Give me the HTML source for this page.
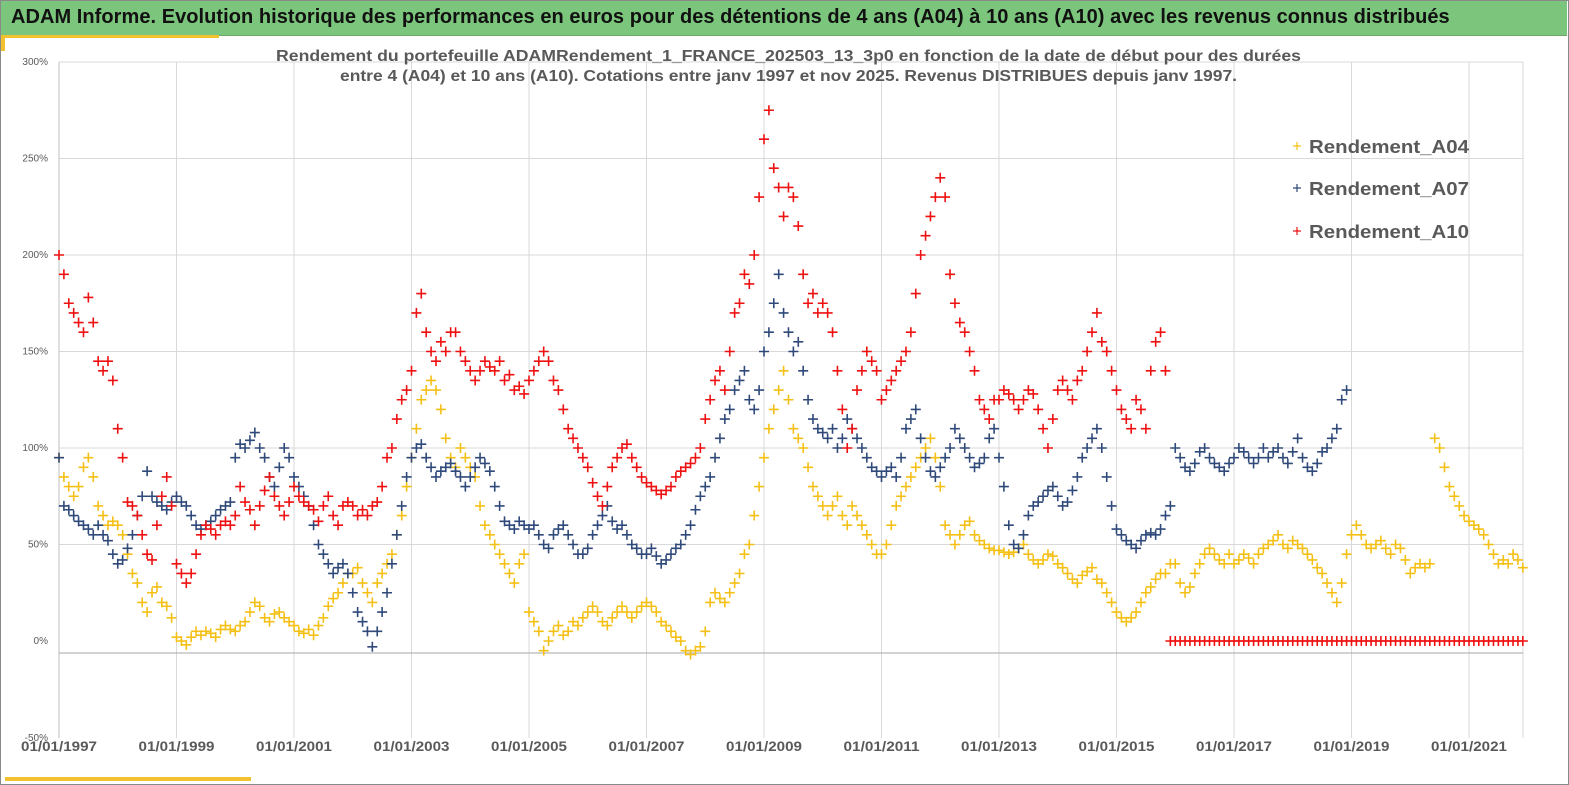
<!DOCTYPE html>
<html><head><meta charset="utf-8">
<style>
html,body{margin:0;padding:0;background:#fff;}
body{width:1569px;height:785px;overflow:hidden;position:relative;font-family:"Liberation Sans",sans-serif;}
#frame{position:absolute;left:0;top:0;width:1567px;height:783px;border:1px solid #8a8a8a;}
#titlebar{position:absolute;left:1px;top:1px;width:1566px;height:34px;background:#7cc57c;border-bottom:1px solid #6aa86a;}
#titlebar span{position:absolute;left:10px;top:5px;font-size:20px;font-weight:bold;color:#111;white-space:nowrap;letter-spacing:0.05px;}
</style></head>
<body>
<div id="frame"></div>
<div id="titlebar"><span>ADAM Informe. Evolution historique des performances en euros pour des détentions de 4 ans (A04) à 10 ans (A10) avec les revenus connus distribués</span></div>
<div style="position:absolute;left:1px;top:35px;width:218px;height:3px;background:#f2c12e"></div>
<div style="position:absolute;left:1px;top:36px;width:4px;height:15px;background:#f2c12e"></div>
<div style="position:absolute;left:5px;top:777px;width:246px;height:4px;background:#f2c12e"></div>
<svg id="chart" width="1569" height="785" style="position:absolute;left:0;top:0">
<g id="grid"></g><g id="marks"></g><g id="labels"></g>
<text x="276" y="61" textLength="1025" lengthAdjust="spacingAndGlyphs" font-size="15.5" font-weight="bold" fill="#595959">Rendement du portefeuille ADAMRendement_1_FRANCE_202503_13_3p0  en fonction de la date de début pour des durées</text>
<text x="340" y="81" textLength="897" lengthAdjust="spacingAndGlyphs" font-size="15.5" font-weight="bold" fill="#595959">entre 4 (A04) et 10 ans (A10). Cotations  entre janv 1997 et nov 2025. Revenus DISTRIBUES depuis janv 1997.</text>
</svg>
<script>
// Monthly values (%) starting Jan 1997
const startYear = 1997;
const a04 = [
95,85,80,75,80,90,95,85,70,65,60,62,
60,55,45,35,30,20,15,25,28,20,18,12,
2,0,-2,2,5,3,5,4,2,6,8,6,
5,8,10,15,20,18,12,10,14,15,12,10,
8,5,4,6,3,8,12,18,22,25,30,35,
35,38,30,25,20,30,35,40,45,55,65,80,
95,110,125,130,135,130,120,105,95,90,100,95,
90,85,70,60,55,50,45,40,35,30,40,45,
15,10,5,-5,0,5,8,3,5,10,8,12,
15,18,15,10,8,12,15,18,15,12,15,18,
20,18,15,10,8,5,2,0,-5,-7,-5,-3,
5,20,25,22,20,25,30,35,45,50,65,80,
95,110,120,130,140,125,110,105,100,90,80,75,
70,65,70,75,65,60,70,65,60,55,50,45,
45,50,60,70,75,80,85,90,95,100,105,95,
80,60,55,50,55,60,62,55,52,50,48,47,
47,46,45,46,48,50,45,42,40,42,45,44,
40,38,35,32,30,34,36,38,32,30,25,20,
15,12,10,12,15,20,25,28,32,35,35,40,
40,30,25,28,35,40,45,48,45,42,40,45,
40,42,45,43,40,45,48,50,52,55,50,48,
52,50,48,45,42,38,35,30,25,20,30,45,
55,60,55,50,48,50,52,48,45,50,48,42,
35,38,40,38,40,105,100,90,80,75,70,65,
62,60,58,55,50,45,40,42,40,45,42,38];
const a07 = [
95,70,68,65,62,60,58,55,60,55,52,45,
40,42,48,55,65,75,88,75,72,70,68,72,
75,72,70,65,60,58,60,62,65,68,70,72,
95,102,100,104,108,100,95,85,80,90,100,95,
85,80,75,70,60,50,45,40,35,38,40,35,
25,15,10,5,-3,5,15,25,40,55,70,85,
95,100,102,95,90,85,88,90,92,88,85,80,
85,90,95,92,88,80,70,62,60,58,62,60,
58,60,55,50,48,55,58,60,55,50,45,45,
48,55,60,65,70,62,58,60,55,50,48,45,
45,48,44,40,42,45,48,50,55,60,68,75,
80,85,95,105,115,120,130,135,140,125,120,130,
150,160,175,190,170,160,150,155,140,125,115,110,
108,105,110,100,105,115,110,105,100,95,90,88,
85,88,90,85,95,110,115,120,105,95,88,85,
90,95,100,110,105,100,95,90,92,95,105,110,
95,80,60,50,48,55,65,70,72,75,78,80,
75,70,72,78,85,95,100,105,110,100,85,70,
58,55,52,50,48,52,55,56,55,58,65,70,
100,95,90,88,92,98,100,95,92,90,88,92,
95,100,98,95,92,95,100,95,98,100,95,92,
98,105,95,90,88,92,98,100,105,110,125,130];
const a10 = [
200,190,175,170,165,160,178,165,145,140,145,135,
110,95,72,70,65,55,45,42,60,75,85,70,
40,35,30,35,45,55,60,58,55,60,62,60,
65,80,72,68,60,70,78,85,75,70,65,72,
80,75,72,70,68,62,70,75,65,60,70,72,
70,65,68,65,70,72,80,95,100,115,125,130,
140,170,180,160,150,145,155,150,160,160,150,145,
140,135,140,145,142,140,145,135,138,130,132,128,
135,140,145,150,145,135,130,120,110,105,100,95,
90,82,75,70,80,90,95,100,102,95,90,85,
82,80,78,76,78,80,85,88,90,92,95,100,
115,125,135,140,130,150,170,175,190,185,200,230,
260,275,245,235,220,235,230,215,190,175,180,170,
175,170,160,140,120,100,110,130,140,150,145,140,
125,130,135,140,145,150,160,180,200,210,220,230,
240,230,190,175,165,160,150,140,125,120,115,125,
125,130,128,125,120,125,130,128,120,110,100,115,
130,135,130,125,135,140,150,160,170,155,150,140,
130,120,115,110,125,120,110,140,155,160,140,0,
0,0,0,0,0,0,0,0,0,0,0,0,
0,0,0,0,0,0,0,0,0,0,0,0,
0,0,0,0,0,0,0,0,0,0,0,0,
0,0,0,0,0,0,0,0,0,0,0,0,
0,0,0,0,0,0,0,0,0,0,0,0,
0,0,0,0,0,0,0,0,0,0,0,0];
const yTicks = [300,250,200,150,100,50,0,-50];
const yTickLabels = ["300%","250%","200%","150%","100%","50%","0%","-50%"];
const xTickYears = [1997,1999,2001,2003,2005,2007,2009,2011,2013,2015,2017,2019,2021];
const xTickLabels = ["01/01/1997","01/01/1999","01/01/2001","01/01/2003","01/01/2005","01/01/2007","01/01/2009","01/01/2011","01/01/2013","01/01/2015","01/01/2017","01/01/2019","01/01/2021"];

const NS = "http://www.w3.org/2000/svg";
const X0 = 59, PXY = 58.75, Y0 = 641, PXV = 1.93, RIGHT = 1523, TOP = 62, BOTTOM = 738;
function xScale(t){ return X0 + (t - 1997) * PXY; }
function yScale(v){ return Y0 - v * PXV; }
function mk(tag, attrs, parent){ const e = document.createElementNS(NS, tag); for (const k in attrs) e.setAttribute(k, attrs[k]); parent.appendChild(e); return e; }

const grid = document.getElementById('grid');
const labels = document.getElementById('labels');
const marks = document.getElementById('marks');

yTicks.forEach((v, i) => {
  if (v > 0) {
    const l = mk('line', {x1: X0, x2: RIGHT, y1: yScale(v), y2: yScale(v), stroke: '#d9d9d9', 'stroke-width': 1}, grid);
    
    
  }
  const t = mk('text', {x: 48, y: (v === -50 ? BOTTOM : yScale(v)) + 3, 'text-anchor': 'end', 'font-size': 10, fill: '#595959'}, labels);
  t.textContent = yTickLabels[i];
  
  
});
xTickYears.forEach((yr, i) => {
  const x = xScale(yr);
  const l = mk('line', {x1: x, x2: x, y1: TOP, y2: BOTTOM, stroke: i === 0 ? '#bfbfbf' : '#d9d9d9', 'stroke-width': 1}, grid);
  
  
  const t = mk('text', {x: x - 38, y: 751, textLength: 76, lengthAdjust: 'spacingAndGlyphs', 'font-size': 14, 'font-weight': 'bold', fill: '#595959'}, labels);
  t.textContent = xTickLabels[i];
  
  
});
const rl = mk('line', {x1: RIGHT, x2: RIGHT, y1: TOP, y2: BOTTOM, stroke: '#d9d9d9'}, grid);


const ax = mk('line', {x1: X0, x2: RIGHT, y1: 653, y2: 653, stroke: '#a6a6a6', 'stroke-width': 1}, grid);



function drawSeries(vals, color, name){
  const g = mk('g', {stroke: color, 'stroke-width': 1.6}, marks);
  
  
  vals.forEach((v, i) => {
    const x = xScale(startYear + i / 12), y = yScale(v);
    const p = mk('path', {d: `M${x-5},${y}h10M${x},${y-5}v10`}, g);
    
    
  });
}
drawSeries(a04, '#f5c016', 'series-a04');
drawSeries(a07, '#2f4a7a', 'series-a07');
drawSeries(a10, '#ee1111', 'series-a10');

const legend = [['Rendement_A04', '#f5c016', 146], ['Rendement_A07', '#2f4a7a', 188], ['Rendement_A10', '#ee1111', 231]];
legend.forEach(([lab, col, y]) => {
  const g = mk('g', {}, labels);
  
  
  mk('path', {d: `M${1293},${y}h8M${1297},${y-4}v8`, stroke: col, 'stroke-width': 1.2}, g);
  const t = mk('text', {x: 1309, y: y + 7, textLength: 160, lengthAdjust: 'spacingAndGlyphs', 'font-size': 18, 'font-weight': 'bold', fill: '#595959'}, g);
  t.textContent = lab;
});
</script>
</body></html>
